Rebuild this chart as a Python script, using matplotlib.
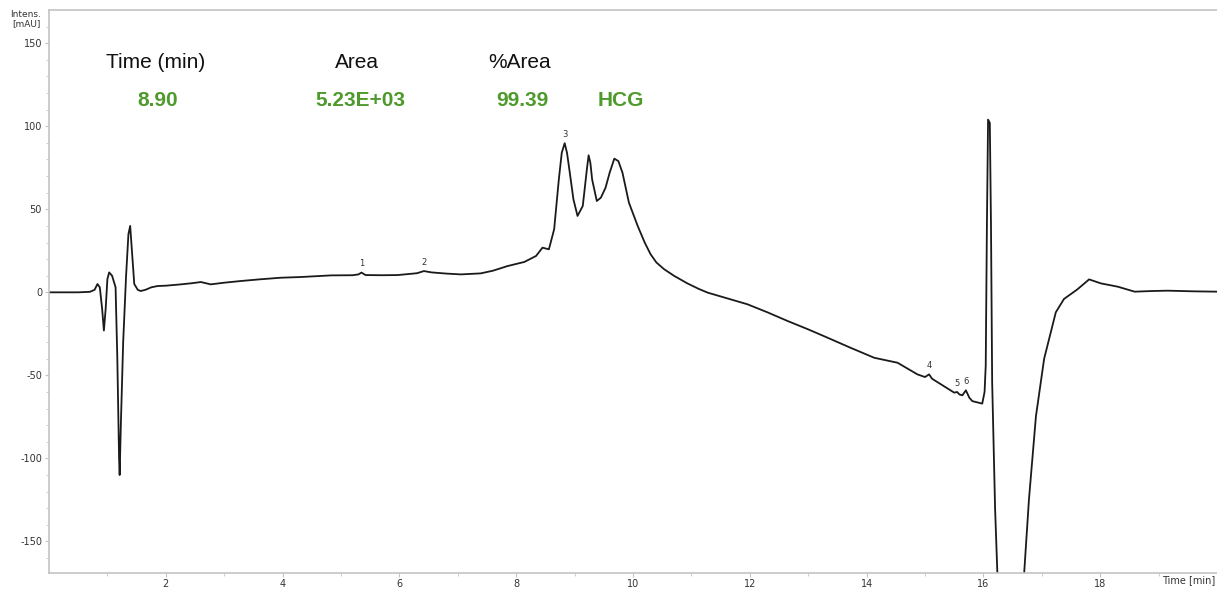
import matplotlib
matplotlib.use("Agg")
import matplotlib.pyplot as plt
from matplotlib.ticker import FixedLocator, FuncFormatter

# chromatogram trace (min, mAU)
time_min = [0.0, 0.5, 0.7, 0.78, 0.83, 0.87, 0.91, 0.94, 0.97, 1.0, 1.03, 1.08, 1.14,
            1.17, 1.2, 1.21, 1.23, 1.27, 1.32, 1.36, 1.39, 1.42, 1.46, 1.52, 1.57,
            1.65, 1.75, 1.86, 2.0, 2.26, 2.45, 2.6, 2.77, 3.0, 3.28, 3.6, 3.97, 4.3,
            4.83, 5.2, 5.3, 5.35, 5.42, 5.7, 5.97, 6.3, 6.42, 6.55, 6.8, 7.05, 7.39,
            7.6, 7.85, 8.14, 8.34, 8.45, 8.56, 8.65, 8.73, 8.78, 8.83, 8.87, 8.91,
            8.98, 9.05, 9.14, 9.21, 9.24, 9.27, 9.3, 9.38, 9.45, 9.53, 9.6, 9.68,
            9.75, 9.82, 9.93, 10.08, 10.2, 10.3, 10.4, 10.53, 10.7, 10.93, 11.13,
            11.28, 11.6, 11.96, 12.3, 12.65, 13.0, 13.33, 13.7, 14.13, 14.53, 14.87,
            15.0, 15.07, 15.12, 15.3, 15.5, 15.55, 15.59, 15.64, 15.7, 15.76, 15.81,
            15.98, 16.02, 16.04, 16.06, 16.08, 16.11, 16.13, 16.15, 16.2, 16.24,
            16.3, 16.5, 16.65, 16.7, 16.78, 16.9, 17.04, 17.24, 17.38, 17.61, 17.81,
            18.01, 18.3, 18.59, 18.9, 19.16, 19.6, 20.0]
intensity = [0, 0, 0.3, 1.5, 5, 3, -10, -23, -10, 8, 12, 10, 3,
             -40, -100, -110, -80, -30, 10, 35, 40, 25, 5, 1.5, 0.8,
             1.5, 3, 3.8, 4, 4.8, 5.5, 6.2, 4.8, 5.8, 6.8, 7.8, 8.8, 9.2,
             10.2, 10.3, 10.8, 11.9, 10.4, 10.3, 10.4, 11.5, 12.8, 12, 11.3, 10.8, 11.4,
             13, 15.8, 18.3, 21.9, 26.9, 25.9, 38, 68, 84, 89.8, 84, 74,
             56, 46, 52, 74, 82.5, 78, 68, 55, 57, 63, 72, 80.5,
             79, 72, 54, 40, 30, 23, 18, 14, 10, 5.4, 2,
             -0.2, -3.5, -7.2, -12, -17.3, -22.3, -27.3, -33, -39.4, -42.4, -49.4,
             -51, -49.4, -52, -56, -60.4, -60, -61.5, -62, -59, -63.5, -65.5,
             -67, -60, -44, 40, 104, 102, 40, -54, -130, -170,
             -220, -250, -210, -168, -124.7, -74.5, -40, -12, -4, 1.8, 7.8,
             5.4, 3.4, 0.4, 0.8, 1, 0.6, 0.4]

# numbered peak labels
peak_ids = ["1", "2", "3", "4", "5", "6"]
peak_t = [5.35, 6.42, 8.83, 15.07, 15.55, 15.70]
peak_v = [11.9, 12.8, 89.8, -49.4, -60.0, -59.0]

# integration summary
header_labels = ["Time (min)", "Area", "%Area"]
result_values = ["8.90", "5.23E+03", "99.39", "HCG"]

x_major = [2, 4, 6, 8, 10, 12, 14, 16, 18]
x_minor = [1, 3, 5, 7, 9, 11, 13, 15, 17, 19]
y_major = [-150, -100, -50, 0, 50, 100, 150]
y_minor = list(range(-160, 170, 10))

W, H = 1217, 590
fig = plt.figure(figsize=(W / 100, H / 100), dpi=100)
ax = fig.add_axes([49 / W, 17 / H, 1 - 49 / W, 563 / H])

ax.plot(time_min, intensity, color="#1a1a1a", lw=1.3)
ax.set_xlim(0, 20)
ax.set_ylim(-169, 170)

for pid, t, v in zip(peak_ids, peak_t, peak_v):
    ax.text(t, v + 2.5, pid, fontsize=6, ha="center", va="bottom", color="#333333")

grey = "#c4c4c4"
for side in ["left", "bottom", "top"]:
    ax.spines[side].set_color(grey)
    ax.spines[side].set_linewidth(1.2)
ax.spines["right"].set_visible(False)

ax.xaxis.set_major_locator(FixedLocator(x_major))
ax.xaxis.set_minor_locator(FixedLocator(x_minor))
ax.yaxis.set_major_locator(FixedLocator(y_major))
ax.yaxis.set_minor_locator(FixedLocator(y_minor))
ax.yaxis.set_major_formatter(FuncFormatter(lambda v, p: str(int(v))))
ax.tick_params(which="major", length=3, color=grey, labelsize=7, labelcolor="#333333", pad=2)
ax.tick_params(axis="x", which="major", pad=1)
ax.tick_params(which="minor", length=2.5, color=grey)

# summary text
fs = 15
green = "#4e9a2c"
for label, xp in zip(header_labels, [156, 357, 520]):
    fig.text(xp / W, 1 - 62 / H, label, fontsize=fs, ha="center", va="center",
             family="Liberation Sans", color="#111111")
for val, xp in zip(result_values, [158, 360, 522, 621]):
    fig.text(xp / W, 1 - 100 / H, val, fontsize=fs, ha="center", va="center",
             family="Liberation Sans", fontweight="bold", color=green)

fig.text(26 / W, 1 - 19 / H, "Intens.\n[mAU]", fontsize=6.5, ha="center", va="center",
         color="#333333", linespacing=1.1)
fig.text(1215 / W, 1 - 580 / H, "Time [min]", fontsize=7, ha="right", va="center",
         color="#333333")

fig.savefig("out.png", dpi=100, facecolor="white")
